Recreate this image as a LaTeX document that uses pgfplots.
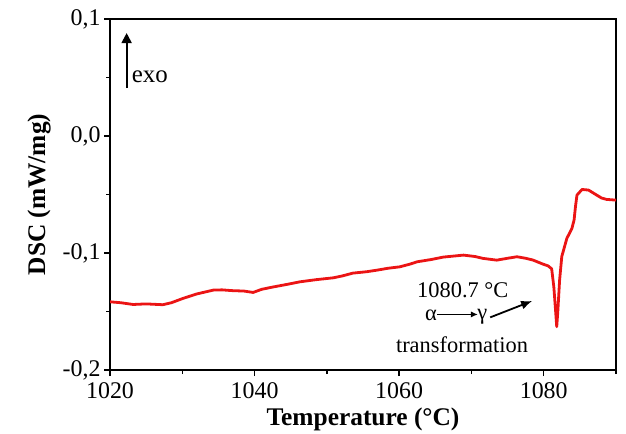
\documentclass[border=0pt]{standalone}
\usepackage{pgfplots}
\pgfplotsset{compat=1.18}
\usepackage{fontspec}
\setmainfont{Liberation Serif}
\usetikzlibrary{arrows.meta}
\definecolor{curve}{RGB}{235,20,20}
\begin{document}
\begin{tikzpicture}
\begin{axis}[
  scale only axis, width=506bp, height=351bp,
  xmin=1020, xmax=1090, ymin=-0.2, ymax=0.1,
  xtick={1020,1040,1060,1080}, minor xtick={1030,1050,1070,1090},
  ytick={-0.2,-0.1,0,0.1}, minor ytick={-0.15,-0.05,0.05},
  tick pos=left, tick align=outside,
  major tick length=6bp, minor tick length=4bp,
  every tick/.style={black, line width=1.3bp},
  axis line style={line width=1.6bp},
  tick label style={font=\fontsize{24}{28}\selectfont},
  xticklabel style={yshift=-3bp},
  /pgf/number format/assume math mode=true,
  yticklabel style={/pgf/number format/.cd, fixed, fixed zerofill, precision=1, use comma},
  xticklabel style={/pgf/number format/.cd, 1000 sep={}},
  xlabel={\bfseries Temperature (°C)},
  ylabel={\bfseries DSC (mW/mg)},
  label style={font=\fontsize{25.5}{28}\selectfont},
  xlabel style={yshift=-2bp},
  ylabel style={yshift=5bp},
]
\addplot[color=curve, line width=2.8bp, line join=round] coordinates {
(1020,-0.1417) (1021.5,-0.1425) (1023.2,-0.1440) (1025,-0.1435) (1027.3,-0.1442)
(1028.5,-0.1425) (1030.1,-0.1388) (1032,-0.1350) (1034.3,-0.1317) (1035.5,-0.1315)
(1037,-0.1322) (1038.5,-0.1325) (1039.8,-0.1337) (1041,-0.1310) (1042.6,-0.1290)
(1044.5,-0.1268) (1046.3,-0.1246) (1048.5,-0.1228) (1050.9,-0.1212) (1052.2,-0.1195)
(1053.6,-0.1172) (1055.5,-0.1160) (1057,-0.1146) (1058.5,-0.1130) (1060.1,-0.1118)
(1061.5,-0.1095) (1062.5,-0.1075) (1064.5,-0.1055) (1066.1,-0.1035) (1068.9,-0.1018)
(1070.5,-0.1030) (1071.6,-0.1046) (1073.5,-0.1061) (1075,-0.1045) (1076.3,-0.1032)
(1077.5,-0.1045) (1078.5,-0.1060) (1079.9,-0.1095) (1080.6,-0.1110) (1081.1,-0.1135)
(1081.4,-0.129) (1081.65,-0.150) (1081.8,-0.163) (1081.95,-0.150) (1082.2,-0.123)
(1082.5,-0.103) (1083.2,-0.0875) (1083.9,-0.079) (1084.2,-0.0718) (1084.4,-0.060)
(1084.6,-0.0505) (1085.3,-0.0457) (1086.2,-0.0462) (1087.3,-0.0504) (1088.0,-0.0530)
(1088.7,-0.0542) (1090,-0.0548)
};
\draw[-{Triangle[length=10bp,width=10bp]}, line width=1.8bp] (axis cs:1022.3,0.041) -- (axis cs:1022.3,0.088);
\node[anchor=west, font=\fontsize{25}{28}\selectfont, inner sep=0pt] at (axis cs:1023.0,0.051) {exo};
\node[font=\fontsize{22.5}{26}\selectfont, inner sep=0pt] at (axis cs:1068.8,-0.1315) {1080.7 °C};
\node[font=\fontsize{22.5}{26}\selectfont, inner sep=0pt] at (axis cs:1064.4,-0.1535) {α};
\node[font=\fontsize{22.5}{26}\selectfont, inner sep=0pt] at (axis cs:1071.5,-0.1545) {γ};
\draw[-{Latex[length=7bp,width=6bp]}, line width=1.2bp] (axis cs:1065.3,-0.1525) -- (axis cs:1070.9,-0.1525);
\node[font=\fontsize{22.5}{26}\selectfont, inner sep=0pt] at (axis cs:1068.7,-0.1785) {transformation};
\draw[-{Latex[length=11bp,width=9bp]}, line width=1.8bp] (axis cs:1072.6,-0.155) -- (axis cs:1078.4,-0.141);
\end{axis}
\pgfresetboundingbox
\path ([shift={(-110bp,-63bp)}]current axis.south west) rectangle ([shift={(10bp,19bp)}]current axis.north east);
\end{tikzpicture}
\end{document}
